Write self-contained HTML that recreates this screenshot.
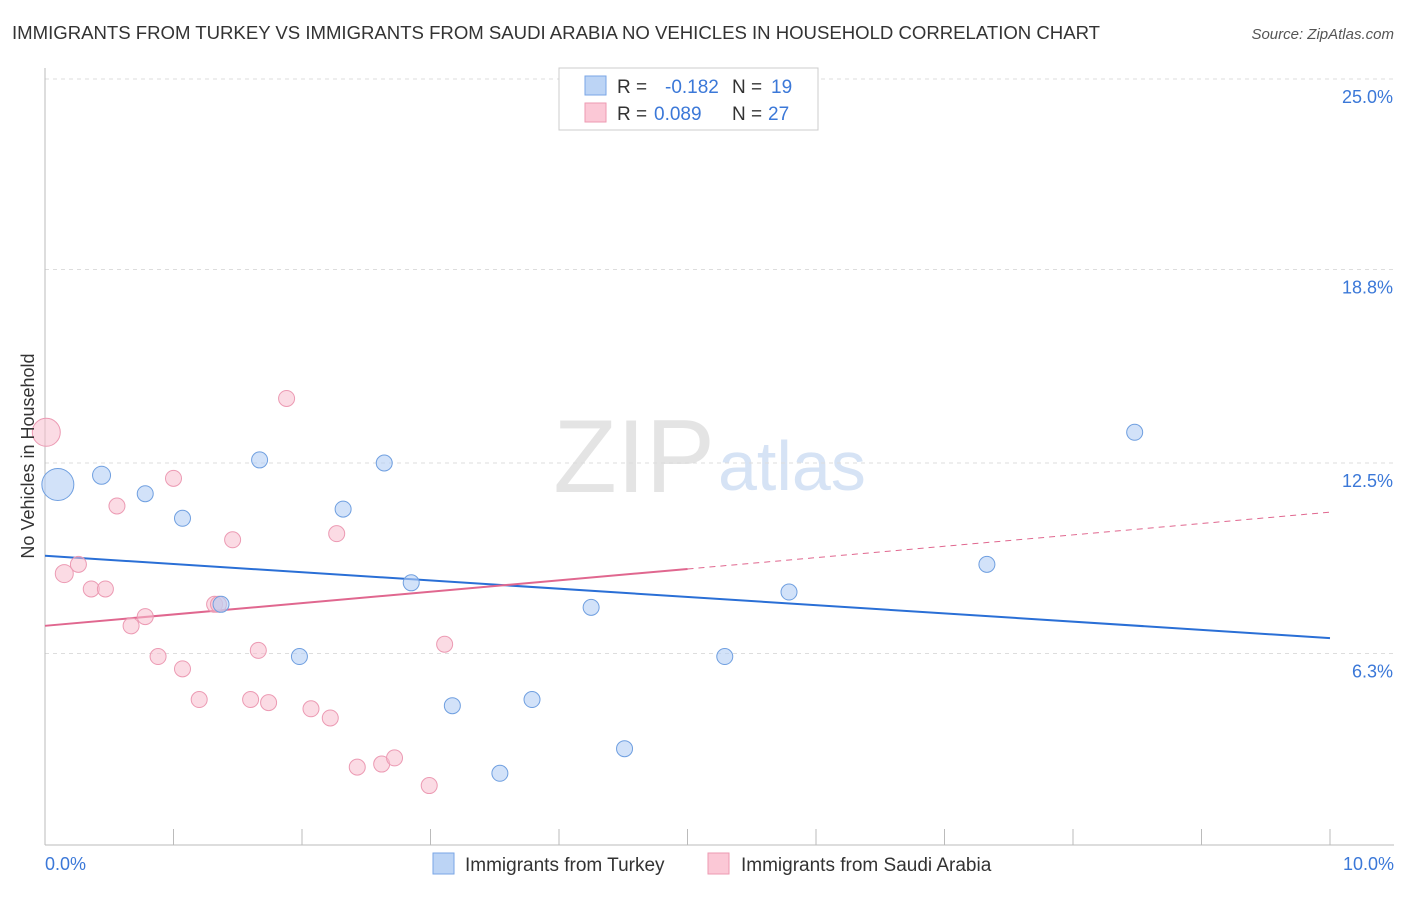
<!DOCTYPE html>
<html><head><meta charset="utf-8"><style>
body{margin:0;background:#fff;font-family:"Liberation Sans",sans-serif;}
svg text{font-family:"Liberation Sans",sans-serif;}
</style></head><body>
<svg id="chart" width="1406" height="892">
<text x="12" y="39" font-size="18.6" fill="#333" textLength="1088">IMMIGRANTS FROM TURKEY VS IMMIGRANTS FROM SAUDI ARABIA NO VEHICLES IN HOUSEHOLD CORRELATION CHART</text>
<text x="1394" y="39" font-size="15" fill="#555" text-anchor="end" font-style="italic">Source: ZipAtlas.com</text>
<text x="715" y="492" font-size="104" fill="#e4e4e4" text-anchor="end" font-family="Liberation Serif">ZIP</text>
<text x="718" y="490" font-size="70" fill="#d6e3f5">atlas</text>
<g id="grid"></g>
<g id="axes"></g>
<g id="trends"></g>
<g id="points"></g>
<text transform="translate(34,456) rotate(-90)" font-size="18" fill="#333" text-anchor="middle">No Vehicles in Household</text>
<g>
<rect x="559" y="68" width="259" height="62" fill="#fff" stroke="#ccc"/>
<rect x="585" y="76" width="21" height="19" fill="#bcd4f5" stroke="#7aa6e6"/>
<rect x="585" y="103" width="21" height="19" fill="#fbc8d6" stroke="#ee9ab2"/>
<text x="617" y="93" font-size="19" fill="#333">R =</text>
<text x="665" y="93" font-size="19" fill="#3b78d8">-0.182</text>
<text x="732" y="93" font-size="19" fill="#333">N =</text>
<text x="771" y="93" font-size="19" fill="#3b78d8">19</text>
<text x="617" y="120" font-size="19" fill="#333">R =</text>
<text x="654" y="120" font-size="19" fill="#3b78d8">0.089</text>
<text x="732" y="120" font-size="19" fill="#333">N =</text>
<text x="768" y="120" font-size="19" fill="#3b78d8">27</text>
</g>
<g>
<rect x="433" y="853" width="21" height="21" fill="#bcd4f5" stroke="#7aa6e6"/>
<text x="465" y="871" font-size="19" fill="#333">Immigrants from Turkey</text>
<rect x="708" y="853" width="21" height="21" fill="#fbc8d6" stroke="#ee9ab2"/>
<text x="741" y="871" font-size="19" fill="#333">Immigrants from Saudi Arabia</text>
</g>
</svg>
<script>
const yTicks=[6.3,12.5,18.8,25.0];
const xTickLabels=["0.0%","10.0%"];
const turkeyX=[0.10,0.44,0.78,1.07,1.37,1.67,1.98,2.32,2.64,2.85,3.17,3.54,3.79,4.25,4.51,5.29,5.79,7.33,8.48];
const turkeyY=[11.8,12.1,11.5,10.7,7.9,12.6,6.2,11.0,12.5,8.6,4.6,2.4,4.8,7.8,3.2,6.2,8.3,9.2,13.5];
const turkeyR=[16,9,8,8,8,8,8,8,8,8,8,8,8,8,8,8,8,8,8];
const saudiX=[0.01,0.15,0.26,0.36,0.47,0.56,0.67,0.78,0.88,1.00,1.07,1.20,1.32,1.35,1.46,1.60,1.66,1.74,1.88,2.07,2.22,2.27,2.43,2.62,2.72,2.99,3.11];
const saudiY=[13.5,8.9,9.2,8.4,8.4,11.1,7.2,7.5,6.2,12.0,5.8,4.8,7.9,7.9,10.0,4.8,6.4,4.7,14.6,4.5,4.2,10.2,2.6,2.7,2.9,2.0,6.6];
const saudiR=[14,9,8,8,8,8,8,8,8,8,8,8,8,8,8,8,8,8,8,8,8,8,8,8,8,8,8];
const turkeyTrend=[9.48,6.8];
const saudiTrend=[7.2,10.9];
const saudiSolidEnd=5.0;
const X=v=>45+v/10*1285, Y=v=>847-v/6.25*192;
const NS="http://www.w3.org/2000/svg";
function mk(p,t,a){const e=document.createElementNS(NS,t);for(const k in a)e.setAttribute(k,a[k]);document.getElementById(p).appendChild(e);return e;}
let g=mk('grid','line',{x1:45,x2:1394,y1:79,y2:79,stroke:'#ddd','stroke-dasharray':'4 4'});


yTicks.forEach(t=>{
 const l=mk('grid','line',{x1:45,x2:1394,y1:Y(t),y2:Y(t),stroke:'#ddd','stroke-dasharray':'4 4'});
 
 
 const tx=mk('grid','text',{x:1393,y:Y(t)+24,'font-size':18,fill:'#3b78d8','text-anchor':'end'});
 tx.textContent=t.toFixed(1)+'%';
 
 
});
let a=mk('axes','line',{x1:45,x2:1394,y1:845,y2:845,stroke:'#bbb'});


let ay=mk('axes','line',{x1:45,x2:45,y1:68,y2:845,stroke:'#bbb'});


for(let i=1;i<=10;i++){const tk=mk('axes','line',{x1:X(i),x2:X(i),y1:829,y2:845,stroke:'#bbb'});
 
 }
[[0,'start',45],[10,'end',1394]].forEach((d,i)=>{const t=mk('axes','text',{x:d[2],y:870,'font-size':18,fill:'#3b78d8','text-anchor':d[1]});
 t.textContent=xTickLabels[i];
 
 });
const lin=(tr,x)=>tr[0]+(tr[1]-tr[0])*x/10;
let bt=mk('trends','line',{x1:X(0),y1:Y(turkeyTrend[0]),x2:X(10),y2:Y(turkeyTrend[1]),stroke:'#2a6fd6','stroke-width':2});


let st=mk('trends','line',{x1:X(0),y1:Y(saudiTrend[0]),x2:X(saudiSolidEnd),y2:Y(lin(saudiTrend,saudiSolidEnd)),stroke:'#e0678f','stroke-width':2});


let sd=mk('trends','line',{x1:X(saudiSolidEnd),y1:Y(lin(saudiTrend,saudiSolidEnd)),x2:X(10),y2:Y(saudiTrend[1]),stroke:'#e0678f','stroke-width':1,'stroke-dasharray':'6 5'});


saudiX.forEach((x,i)=>{const c=mk('points','circle',{cx:X(x),cy:Y(saudiY[i]),r:saudiR[i],fill:'rgba(248,190,206,0.55)',stroke:'#ec9ab3','stroke-width':1});
 
 });
turkeyX.forEach((x,i)=>{const c=mk('points','circle',{cx:X(x),cy:Y(turkeyY[i]),r:turkeyR[i],fill:'rgba(180,206,245,0.6)',stroke:'#6f9fe0','stroke-width':1});
 
 });
</script>
</body></html>
